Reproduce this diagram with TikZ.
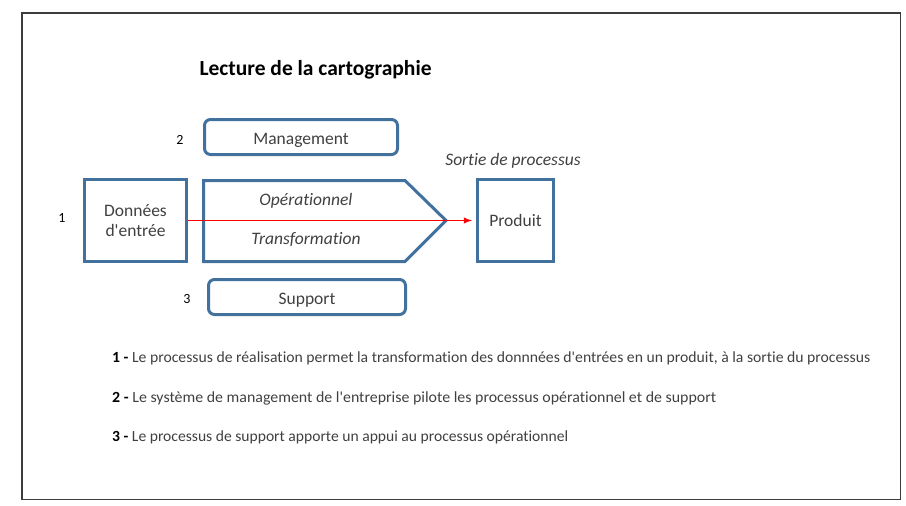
\documentclass[tikz,border=0pt]{standalone}
\usepackage{fontspec}
\setmainfont{Carlito}[Ligatures={TeXOff,NoCommon}]
\usetikzlibrary{arrows}
\definecolor{boxblue}{RGB}{65,113,156}
\definecolor{txtgray}{RGB}{64,64,64}
\definecolor{framegray}{RGB}{60,60,60}
\tikzset{>=latex}
\tikzset{
  plainbox/.style = {draw=boxblue, line width=3pt, text=txtgray, font=\fontsize{17.5}{20}\selectfont, align=center, inner sep=0pt},
  roundbox/.style = {plainbox, rounded corners=6pt, text height=15pt, text depth=0pt},
  numlabel/.style = {font=\fontsize{14}{16}\selectfont, text=black},
  italabel/.style = {font=\fontsize{17.5}{20}\selectfont\itshape, text=txtgray},
  noteline/.style = {anchor=west, inner sep=0pt, text=txtgray, font=\fontsize{15.5}{18}\selectfont}
}
\newcommand{\noteitem}[3]{\resizebox{#1}{\height}{\textbf{\color{black}#2 -} #3}}

\begin{document}
\begin{tikzpicture}[x=1pt,y=-1pt]
  \useasboundingbox (0,0) rectangle (906,506);
  % frame
  \draw[framegray, line width=1.5pt] (22,13) rectangle (900.5,499.5);
  % title
  \node[anchor=west, font=\fontsize{21.5}{24}\selectfont\bfseries] (title) at (196,70) {Lecture de la cartographie};
  % boxes
  \node[plainbox, minimum width=102pt, minimum height=82pt] (input) at (135.5,220.5) {Données\\d'entrée};
  \node[roundbox, minimum width=193pt, minimum height=35pt] (mgmt) at (301,137) {Management};
  \node[roundbox, minimum width=197pt, minimum height=35pt] (support) at (307,297) {Support};
  \node[plainbox, minimum width=76pt, minimum height=82pt] (output) at (515.5,220.5) {Produit};
  % operational process
  \draw[boxblue, line width=3pt] (203.5,180.5) -- (405,180.5) -- (446,220.5) -- (405,261.5) -- (203.5,261.5) -- cycle;
  \node[italabel] (oper) at (306,201) {Opérationnel};
  \node[italabel] (transf) at (306,240) {Transformation};
  \node[italabel] (exit) at (513,161) {Sortie de processus};
  % numbers
  \node[numlabel] (n1) at (62,218) {1};
  \node[numlabel] (n2) at (180,140) {2};
  \node[numlabel] (n3) at (187,299) {3};
  % flow
  \draw[->, red, line width=1.8pt, shorten >=4pt] (input.east) -- (output.west);
  % notes
  \node[noteline] (note1) at (112,358) {\noteitem{758pt}{1}{Le processus de réalisation permet la transformation des donnnées d'entrées en un produit, à la sortie du processus}};
  \node[noteline] (note2) at (112,398) {\noteitem{604pt}{2}{Le système de management de l'entreprise pilote les processus opérationnel et de support}};
  \node[noteline] (note3) at (112,437) {\noteitem{456pt}{3}{Le processus de support apporte un appui au processus opérationnel}};
\end{tikzpicture}
\end{document}
